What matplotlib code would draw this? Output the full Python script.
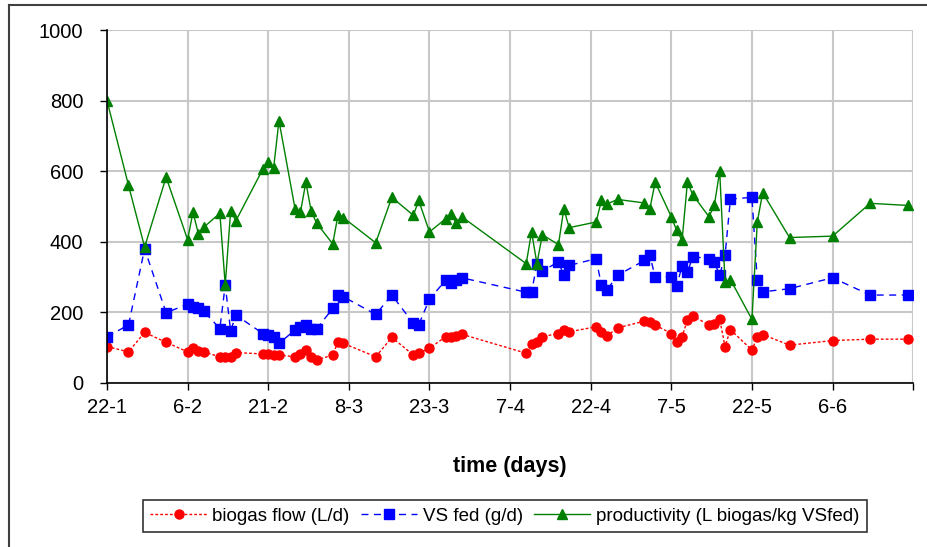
import datetime as dt
import matplotlib
matplotlib.use("Agg")
import matplotlib.pyplot as plt
from matplotlib.lines import Line2D

plt.rcParams['font.family'] = ['Liberation Sans', 'DejaVu Sans']

# days counted from 22-1
days = [0, 4, 7, 11, 15, 16, 17, 18, 21, 22, 23, 24, 29, 30, 31, 32,
        35, 36, 37, 38, 39, 42, 43, 44, 50, 53, 57, 58, 60, 63, 64, 65, 66,
        78, 79, 80, 81, 84, 85, 86, 91, 92, 93, 95, 100, 101, 102,
        105, 106, 107, 108, 109, 112, 113, 114, 115, 116, 120, 121, 122,
        127, 135, 142, 149]

biogas_flow = [103, 88, 143, 115, 88, 98, 91, 88, 74, 74, 72, 86, 82, 82, 79, 79,
               74, 82, 93, 74, 65, 79, 117, 112, 74, 129, 79, 84, 98, 131, 131, 133, 138,
               84, 110, 117, 131, 140, 150, 145, 159, 145, 133, 156, 175, 173, 164,
               140, 117, 131, 178, 190, 164, 168, 181, 103, 151, 93, 129, 137,
               107, 120, 124, 124]

vs_fed = [131, 164, 380, 199, 223, 216, 211, 203, 154, 277, 148, 192, 140, 137, 131, 112,
          150, 159, 165, 154, 153, 211, 249, 244, 194, 249, 169, 165, 237, 291, 284, 293, 298,
          257, 257, 338, 317, 343, 305, 333, 352, 277, 263, 305, 347, 362, 300,
          300, 275, 331, 313, 358, 352, 343, 305, 362, 521, 526, 291, 258,
          267, 298, 249, 249]

productivity = [800, 560, 385, 583, 406, 484, 423, 441, 481, 277, 486, 460, 606, 627, 609, 743,
                493, 484, 569, 486, 453, 394, 477, 468, 397, 526, 475, 517, 428, 465, 479, 453, 471,
                338, 428, 338, 420, 392, 493, 440, 456, 517, 507, 520, 510, 493, 569,
                471, 432, 404, 569, 533, 471, 503, 600, 286, 293, 180, 456, 539,
                412, 416, 509, 503]

start = dt.date(2009, 1, 22)
tick_days = list(range(0, 151, 15))
tick_labels = [f"{(start + dt.timedelta(days=d)).day}-{(start + dt.timedelta(days=d)).month}"
               for d in tick_days[:-1]] + [""]

fig = plt.figure(figsize=(9.28, 5.47), dpi=100)
ax = fig.add_axes([0.1153, 0.3, 0.8687, 0.645])

ax.plot(days, biogas_flow, color='red', linestyle=(0, (2, 1.5)), linewidth=1, marker='o',
        markersize=6.5, label='biogas flow (L/d)')
ax.plot(days, vs_fed, color='blue', linestyle=(0, (5, 4)), linewidth=1, marker='s',
        markersize=6.5, label='VS fed (g/d)')
ax.plot(days, productivity, color='green', linestyle='-', linewidth=1, marker='^',
        markersize=6.5, label='productivity (L biogas/kg VSfed)')

ax.set_xlim(0, 150)
ax.set_ylim(0, 1000)
ax.set_xticks(tick_days)
ax.set_xticklabels(tick_labels, fontsize=14.5)
ax.set_yticks(range(0, 1001, 200))
ax.tick_params(axis='y', labelsize=14.5, length=5, width=1, pad=12)
ax.tick_params(axis='x', length=5, width=1, pad=6)
ax.grid(True, color='#c8c8c8', linewidth=1.5)
ax.set_axisbelow(True)
for side in ['top', 'right']:
    ax.spines[side].set_visible(False)
for side in ['left', 'bottom']:
    ax.spines[side].set_linewidth(1.2)

ax.set_xlabel('time (days)', fontsize=15.5, fontweight='bold', labelpad=28)

leg = fig.legend(loc='center', bbox_to_anchor=(0.544, 0.0567), ncol=3, fontsize=13.5,
                 frameon=True, fancybox=False, edgecolor='black', handlelength=3.0,
                 handletextpad=0.3, columnspacing=0.6, borderpad=0.4, borderaxespad=0)
leg.get_frame().set_linewidth(1.2)

# outer chart border (top and left edges visible in the reference)
fig.add_artist(Line2D([9 / 928, 1], [1 - 5 / 547, 1 - 5 / 547], color='#404040',
                      linewidth=1.5, transform=fig.transFigure))
fig.add_artist(Line2D([9 / 928, 9 / 928], [0, 1 - 5 / 547], color='#404040',
                      linewidth=1.5, transform=fig.transFigure))

fig.savefig('out.png', dpi=100)
